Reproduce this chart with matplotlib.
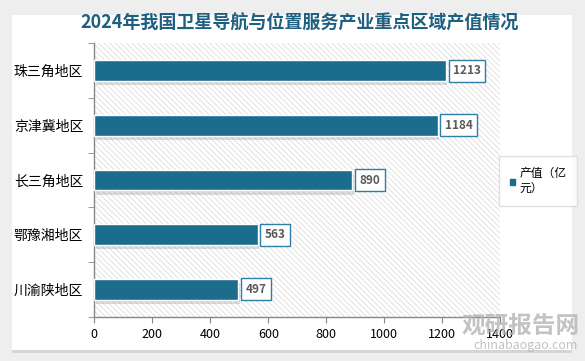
import numpy as np
import matplotlib
matplotlib.use('Agg')
import matplotlib.pyplot as plt
from matplotlib.patches import Rectangle
import matplotlib.patheffects as pe

plt.rcParams['font.family'] = ['Noto Sans CJK SC', 'DejaVu Sans']
plt.rcParams['hatch.linewidth'] = 0.5

# 数据
regions = ['珠三角地区', '京津冀地区', '长三角地区', '鄂豫湘地区', '川渝陕地区']
values = [1213, 1184, 890, 563, 497]
x_ticks = [0, 200, 400, 600, 800, 1000, 1200, 1400]
title = '2024年我国卫星导航与位置服务产业重点区域产值情况'
legend_label = '产值（亿\n元）'

bar_color = '#1c6c8e'
W, H = 585, 361
fig = plt.figure(figsize=(W / 100, H / 100), dpi=100)
fig.patch.set_facecolor('#eeeeee')

# 白色面板
panel = Rectangle((12 / W, 1 - 350 / H), (572 - 12) / W, (350 - 15) / H,
                  transform=fig.transFigure, facecolor='white', edgecolor='none',
                  zorder=-10)
panel.set_path_effects([pe.SimplePatchShadow(offset=(0, -2), shadow_rgbFace='#d5d5d5', alpha=1),
                        pe.Normal()])
fig.patches.append(panel)

ax = fig.add_axes([94.3 / W, 1 - 316.7 / H, 406 / W, (316.7 - 43.3) / H])
ax.set_facecolor('none')

# 斜线背景
bg = Rectangle((0, 0), 1, 1, transform=ax.transAxes, facecolor='white',
               edgecolor='#d6d6d6', linewidth=0, hatch='\\\\\\\\\\\\', zorder=0)
ax.add_patch(bg)

y = np.arange(len(regions))
bars = ax.barh(y, values, height=0.38, color=bar_color, edgecolor='white',
               linewidth=1, zorder=3)
for b in bars:
    b.set_path_effects([pe.SimplePatchShadow(offset=(1, -3), shadow_rgbFace='#777777', alpha=0.25),
                        pe.Normal()])

for yi, v in zip(y, values):
    ax.text(v + 24, yi, str(v), va='center', ha='left', fontsize=8.5,
            fontweight='bold', color='#595959', zorder=5,
            bbox=dict(boxstyle='square,pad=0.38', facecolor='white',
                      edgecolor='#2e7ea6', linewidth=1))

ax.set_ylim(len(regions) - 0.5, -0.5)
ax.set_xlim(0, 1400)
ax.set_yticks(y)
ax.set_yticklabels(regions, fontsize=10)
ax.tick_params(axis='y', length=0, pad=8)
ax.set_yticks(np.arange(-0.5, len(regions)), minor=True)
ax.tick_params(axis='y', which='minor', length=4, color='#888888')
ax.set_xticks(x_ticks)
ax.tick_params(axis='x', length=4, color='#888888', labelsize=9, pad=4)

for s in ['top', 'right']:
    ax.spines[s].set_visible(False)
for s in ['left', 'bottom']:
    ax.spines[s].set_color('#888888')
    ax.spines[s].set_linewidth(1)

fig.text(300 / W, 1 - 23 / H, title, ha='center', va='center', fontsize=13,
         fontweight='bold', color='#1f5f80')

# 图例
leg = fig.legend([Rectangle((0, 0), 1, 1, color=bar_color)], [legend_label],
                 loc='center left', bbox_to_anchor=(499 / W, 1 - 181 / H),
                 fontsize=8.5, frameon=True, fancybox=False,
                 handlelength=0.45, handleheight=0.45,
                 handletextpad=0.4, borderpad=0.9, borderaxespad=0)
leg.get_frame().set_edgecolor('#d9d9d9')
leg.get_frame().set_linewidth(1)

# 水印
fig.text(580 / W, 1 - 326 / H, '观研报告网', ha='right', va='center', fontsize=17,
         fontweight='bold', color='#b4b4b4', alpha=0.8)
fig.text(578 / W, 1 - 345 / H, 'chinabaogao.com', ha='right', va='center',
         fontsize=9, color='#b4b4b4', alpha=0.8)

fig.savefig('out.png', dpi=100, facecolor=fig.get_facecolor())
